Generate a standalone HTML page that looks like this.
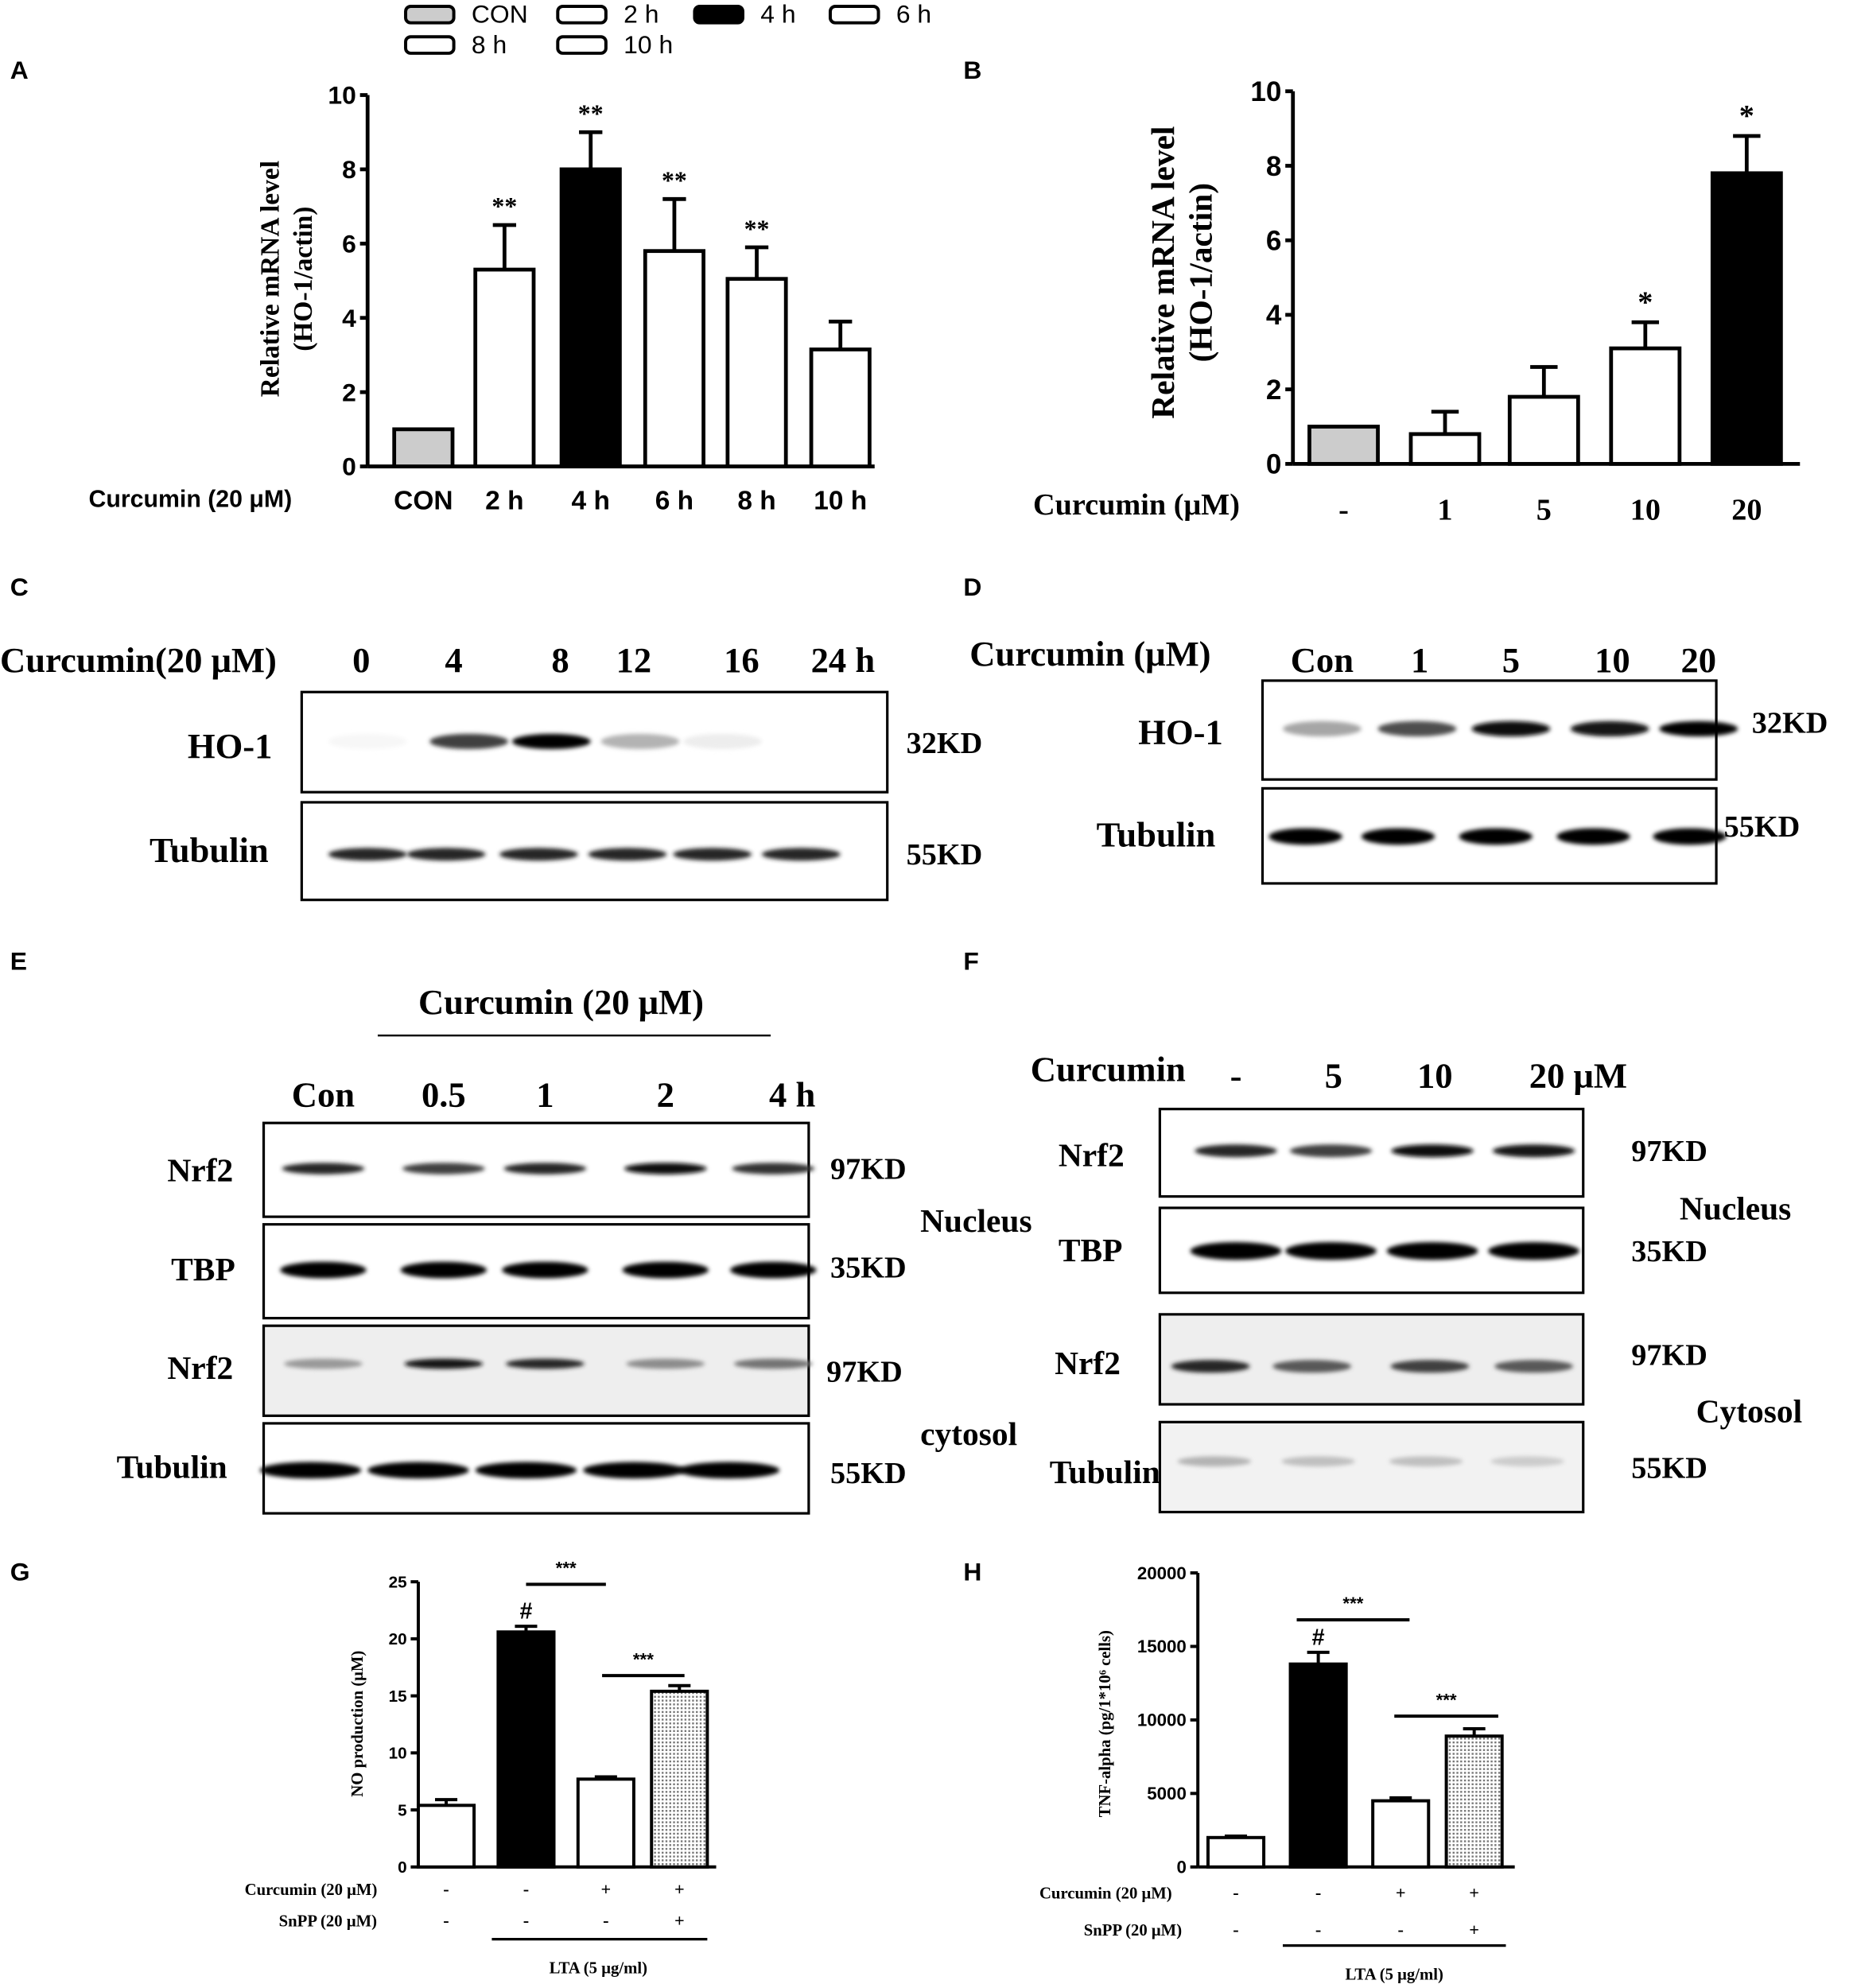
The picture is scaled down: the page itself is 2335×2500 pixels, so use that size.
<!DOCTYPE html>
<html><head><meta charset="utf-8"><style>
html,body{margin:0;padding:0;background:#fff}
svg{display:block}
text{font-family:"Liberation Serif",serif;font-weight:bold;fill:#000}
.sans{font-family:"Liberation Sans",sans-serif}
</style></head><body>
<svg id="fig" width="2335" height="2500" viewBox="0 0 1465 1568.5" preserveAspectRatio="none" xmlns="http://www.w3.org/2000/svg">
<defs>
<pattern id="dots" width="3" height="3" patternUnits="userSpaceOnUse"><rect width="3" height="3" fill="#fff"/><rect width="1.5" height="1.5" fill="#777"/></pattern>
<filter id="blur" x="-20%" y="-100%" width="140%" height="300%"><feGaussianBlur stdDeviation="1.6"/></filter>
</defs>
<g id="root"></g>
</svg>
<script>
// ---- Panel A data ----
const aCats=["CON","2 h","4 h","6 h","8 h","10 h"];
const aVals=[1.0,5.3,8.0,5.8,5.05,3.15];
const aErr=[0,1.2,1.0,1.4,0.85,0.75];
const aStars=["","**","**","**","**",""];
const aTicks=[0,2,4,6,8,10];
// ---- Panel B data ----
const bCats=["-","1","5","10","20"];
const bVals=[1.0,0.8,1.8,3.1,7.8];
const bErr=[0,0.6,0.8,0.7,1.0];
const bStars=["","","","*","*"];
const bTicks=[0,2,4,6,8,10];
// ---- Panel G data ----
const gVals=[5.4,20.6,7.7,15.4];
const gErr=[0.5,0.5,0.2,0.5];
const gTicks=[0,5,10,15,20,25];
// ---- Panel H data ----
const hVals=[2000,13800,4500,8900];
const hErr=[100,800,200,500];
const hTicks=[0,5000,10000,15000,20000];

const NS="http://www.w3.org/2000/svg";
const root=document.getElementById('root');
function el(tag,attrs,txt){const e=document.createElementNS(NS,tag);for(const k in attrs)e.setAttribute(k,attrs[k]);if(txt!==undefined)e.textContent=txt;root.appendChild(e);return e;}
function T(x,y,s,size,anchor,cls,name){const t=el('text',{x:x,y:y,'font-size':size,'text-anchor':anchor||'start'},s);if(cls)t.setAttribute('class',cls);

return t;}

function barChart(o){
  const sy=v=>o.y0-(v-o.min)/(o.max-o.min)*(o.y0-o.y1);
  const ax=el('line',{x1:o.ax,y1:o.y1,x2:o.ax,y2:o.y0,stroke:'#000','stroke-width':o.lw});
  
  
  const xa=el('line',{x1:o.ax,y1:o.y0,x2:o.xend,y2:o.y0,stroke:'#000','stroke-width':o.lw});
  
  
  o.ticks.forEach(v=>{const y=sy(v);
    const tk=el('line',{x1:o.ax-6,y1:y,x2:o.ax,y2:y,stroke:'#000','stroke-width':o.lw});
    
    
    T(o.ax-9,y+o.tf*0.35,String(v),o.tf,'end',o.tcls,o.p+'-tick-label');});
  o.vals.forEach((v,i)=>{const cx=o.cx[i],w=o.w;
    const top=sy(v),e=sy(v+o.err[i]);
    if(o.err[i]>0){
      const l=el('line',{x1:cx,y1:top,x2:cx,y2:e,stroke:'#000','stroke-width':o.lw});
      
      
      const c=el('line',{x1:cx-w*0.2,y1:e,x2:cx+w*0.2,y2:e,stroke:'#000','stroke-width':o.lw});
      
      }
    const r=el('rect',{x:cx-w/2,y:top,width:w,height:o.y0-top,fill:o.fill[i],stroke:'#000','stroke-width':o.lw});
    
    
    if(o.stars&&o.stars[i])T(cx,e-8,o.stars[i],o.sf,'middle',null,o.p+'-significance');
  });
  return sy;
}
// Legend
[["CON","#ccc",320,12],["2 h","#fff",440,12],["4 h","#000",548,12],["6 h","#fff",655,12],["8 h","#fff",320,36],["10 h","#fff",440,36]].forEach(([s,f,x,y])=>{
  const r=el('rect',{x:x,y:y-7,width:38,height:13,rx:4,fill:f,stroke:'#000','stroke-width':2.5});
  
  
  T(x+52,y+6,s,20,'start','sans','legend-entry').style.fontWeight='normal';
});
// Panel letters
[["A",8,62],["B",760,62],["C",8,470],["D",760,470],["E",8,765],["F",760,765],["G",8,1247],["H",760,1247]].forEach(([s,x,y])=>T(x,y,s,20,'start','sans','panel-letter-'+s.toLowerCase()));

// Panel A
barChart({p:'a',ax:290,y0:368,y1:75,min:0,max:10,xend:690,ticks:aTicks,vals:aVals,err:aErr,stars:aStars,
  cx:[334,398,466,532,597,663],w:46,fill:["#ccc","#fff","#000","#fff","#fff","#fff"],lw:3,tf:20,tcls:'sans',sf:20});
aCats.forEach((c,i)=>T([334,398,466,532,597,663][i],402,c,21,'middle','sans','a-category-label'));
T(70,400,"Curcumin (20 μM)",19,'start','sans','a-x-title');
let t=T(0,0,"Relative mRNA level",21,'middle',null,'a-y-title');t.setAttribute('transform','translate(220,220) rotate(-90)');
t=T(0,0,"(HO-1/actin)",21,'middle',null,'a-y-title');t.setAttribute('transform','translate(246,220) rotate(-90)');

// Panel B
barChart({p:'b',ax:1020,y0:366,y1:72,min:0,max:10,xend:1420,ticks:bTicks,vals:bVals,err:bErr,stars:bStars,
  cx:[1060,1140,1218,1298,1378],w:54,fill:["#ccc","#fff","#fff","#fff","#000"],lw:3,tf:22,tcls:'sans',sf:24});
bCats.forEach((c,i)=>T([1060,1140,1218,1298,1378][i],410,c,24,'middle',null,'b-category-label'));
T(815,406,"Curcumin (μM)",24,'start',null,'b-x-title');
t=T(0,0,"Relative mRNA level",26,'middle',null,'b-y-title');t.setAttribute('transform','translate(926,215) rotate(-90)');
t=T(0,0,"(HO-1/actin)",26,'middle',null,'b-y-title');t.setAttribute('transform','translate(956,215) rotate(-90)');

// Blots
function box(x1,y1,x2,y2,bg,name){const r=el('rect',{x:x1,y:y1,width:x2-x1,height:y2-y1,fill:bg||'#fff',stroke:'#000','stroke-width':2});
  
  }
function bands(xs,y,ints,w,h,name){xs.forEach((x,i)=>{if(ints[i]<=0)return;const g=Math.round(255*(1-ints[i]));
  const e=el('ellipse',{cx:x,cy:y,rx:w/2,ry:h/2,fill:`rgb(${g},${g},${g})`,filter:'url(#blur)'});
  
  });}
// C
T(0,530,"Curcumin(20 μM)",28,'start',null,'c-treatment-label');
["0","4","8","12","16","24 h"].forEach((s,i)=>T([285,358,442,500,585,665][i],530,s,28,'middle',null,'c-lane-label'));
box(238,546,700,625,'#fff','c-ho1-blot');bands([290,370,435,505,570],585,[0.03,0.75,1,0.3,0.07],62,12,'c-ho1-band');
box(238,633,700,710,'#fff','c-tubulin-blot');bands([290,352,425,495,562,632],674,[0.85,0.85,0.85,0.85,0.85,0.85],62,10,'c-tubulin-band');
T(148,598,"HO-1",28,'start',null,'c-ho1-label');T(118,680,"Tubulin",28,'start',null,'c-tubulin-label');
T(715,594,"32KD",24,'start',null,'c-mw');T(715,682,"55KD",24,'start',null,'c-mw');
// D
T(765,525,"Curcumin (μM)",28,'start',null,'d-treatment-label');
["Con","1","5","10","20"].forEach((s,i)=>T([1043,1120,1192,1272,1340][i],530,s,28,'middle',null,'d-lane-label'));
box(996,537,1354,615,'#fff','d-ho1-blot');bands([1043,1118,1192,1270,1340],575,[0.35,0.7,0.95,0.9,1],62,12,'d-ho1-band');
box(996,622,1354,697,'#fff','d-tubulin-blot');bands([1030,1103,1180,1257,1333],660,[1,1,1,1,1],58,13,'d-tubulin-band');
T(898,587,"HO-1",28,'start',null,'d-ho1-label');T(865,668,"Tubulin",28,'start',null,'d-tubulin-label');
T(1382,578,"32KD",24,'start',null,'d-mw');T(1360,660,"55KD",24,'start',null,'d-mw');
// E
T(330,800,"Curcumin (20 μM)",28,'start',null,'e-treatment-label');
const ln=el('line',{x1:298,y1:817,x2:608,y2:817,stroke:'#000','stroke-width':1.5});
const eL=[255,350,430,525,610];
["Con","0.5","1","2","4 h"].forEach((s,i)=>T([255,350,430,525,625][i],873,s,28,'middle',null,'e-lane-label'));
box(208,886,638,960,'#fff','e-nrf2-nuc-blot');bands(eL,922,[0.85,0.75,0.85,0.95,0.8],65,9,'e-band');
box(208,966,638,1040,'#fff','e-tbp-blot');bands(eL,1002,[1,1,1,1,1],68,13,'e-band');
box(208,1046,638,1117,'#eee','e-nrf2-cyt-blot');bands(eL,1076,[0.4,0.9,0.85,0.45,0.55],62,8,'e-band');
box(208,1123,638,1194,'#fff','e-tubulin-blot');bands([245,330,415,500,575],1160,[1,1,1,1,1],80,13,'e-band');
T(132,932,"Nrf2",26,'start',null,'e-label');T(135,1010,"TBP",26,'start',null,'e-label');T(132,1088,"Nrf2",26,'start',null,'e-label');T(92,1166,"Tubulin",26,'start',null,'e-label');
T(655,930,"97KD",24,'start',null,'e-mw');T(655,1008,"35KD",24,'start',null,'e-mw');T(652,1090,"97KD",24,'start',null,'e-mw');T(655,1170,"55KD",24,'start',null,'e-mw');
T(726,972,"Nucleus",26,'start',null,'e-nucleus');T(726,1140,"cytosol",26,'start',null,'e-cytosol');
// F
T(813,853,"Curcumin",28,'start',null,'f-treatment-label');
["-","5","10","20 μM"].forEach((s,i)=>T([975,1052,1132,1245][i],858,s,28,'middle',null,'f-lane-label'));
const fL=[975,1050,1130,1210];
box(915,875,1249,944,'#fff','f-nrf2-nuc-blot');bands(fL,908,[0.85,0.75,0.95,0.9],65,10,'f-band');
box(915,953,1249,1020,'#fff','f-tbp-blot');bands(fL,987,[1,1,1,1],72,14,'f-band');
box(915,1037,1249,1108,'#eee','f-nrf2-cyt-blot');bands([955,1035,1128,1210],1078,[0.85,0.65,0.75,0.65],62,10,'f-band');
box(915,1122,1249,1193,'#f2f2f2','f-tubulin-blot');bands([958,1040,1125,1205],1153,[0.3,0.25,0.25,0.2],58,8,'f-band');
T(835,920,"Nrf2",26,'start',null,'f-label');T(835,995,"TBP",26,'start',null,'f-label');T(832,1084,"Nrf2",26,'start',null,'f-label');T(828,1170,"Tubulin",26,'start',null,'f-label');
T(1287,916,"97KD",24,'start',null,'f-mw');T(1287,995,"35KD",24,'start',null,'f-mw');T(1287,1077,"97KD",24,'start',null,'f-mw');T(1287,1166,"55KD",24,'start',null,'f-mw');
T(1325,962,"Nucleus",26,'start',null,'f-nucleus');T(1338,1122,"Cytosol",26,'start',null,'f-cytosol');

// Panel G
const gx=[352,415,478,536];
const gsy=barChart({p:'g',ax:330,y0:1473,y1:1248,min:0,max:25,xend:565,ticks:gTicks,vals:gVals,err:gErr,
  cx:gx,w:44,fill:["#fff","#000","#fff","url(#dots)"],lw:2.5,tf:13,tcls:'sans'});
T(415,gsy(gVals[1]+gErr[1])-6,"#",18,'middle','sans','g-significance');
[[415,478,1250],[475,540,1322]].forEach(([a,b,y])=>{const l=el('line',{x1:a,y1:y,x2:b,y2:y,stroke:'#000','stroke-width':2.5});T((a+b)/2,y-8,"***",14,'middle','sans','g-significance');});
t=T(0,0,"NO production (μM)",13,'middle',null,'g-y-title');t.setAttribute('transform','translate(286,1360) rotate(-90)');
T(193,1495,"Curcumin (20 μM)",13,'start',null,'g-row-label');T(220,1520,"SnPP (20 μM)",13,'start',null,'g-row-label');
[["-","-","+","+"],["-","-","-","+"]].forEach((r,j)=>r.forEach((s,i)=>T(gx[i],1495+j*25,s,14,'middle',null,'g-sign')));
let l2=el('line',{x1:388,y1:1530,x2:558,y2:1530,stroke:'#000','stroke-width':2});
T(472,1557,"LTA (5 μg/ml)",13,'middle',null,'g-x-title');

// Panel H
const hx=[975,1040,1105,1163];
const hsy=barChart({p:'h',ax:945,y0:1473,y1:1241,min:0,max:20000,xend:1195,ticks:hTicks,vals:hVals,err:hErr,
  cx:hx,w:44,fill:["#fff","#000","#fff","url(#dots)"],lw:2.5,tf:14,tcls:'sans'});
T(1040,hsy(hVals[1]+hErr[1])-6,"#",18,'middle','sans','h-significance');
[[1023,1112,1278],[1100,1182,1354]].forEach(([a,b,y])=>{const l=el('line',{x1:a,y1:y,x2:b,y2:y,stroke:'#000','stroke-width':2.5});T((a+b)/2,y-8,"***",14,'middle','sans','h-significance');});
t=T(0,0,"TNF-alpha (pg/1*10⁶ cells)",13,'middle',null,'h-y-title');t.setAttribute('transform','translate(876,1360) rotate(-90)');
T(820,1498,"Curcumin (20 μM)",13,'start',null,'h-row-label');T(855,1527,"SnPP (20 μM)",13,'start',null,'h-row-label');
[["-","-","+","+"],["-","-","-","+"]].forEach((r,j)=>r.forEach((s,i)=>T(hx[i],1498+j*29,s,14,'middle',null,'h-sign')));
l2=el('line',{x1:1012,y1:1535,x2:1188,y2:1535,stroke:'#000','stroke-width':2});
T(1100,1562,"LTA (5 μg/ml)",13,'middle',null,'h-x-title');
</script>
</body></html>
